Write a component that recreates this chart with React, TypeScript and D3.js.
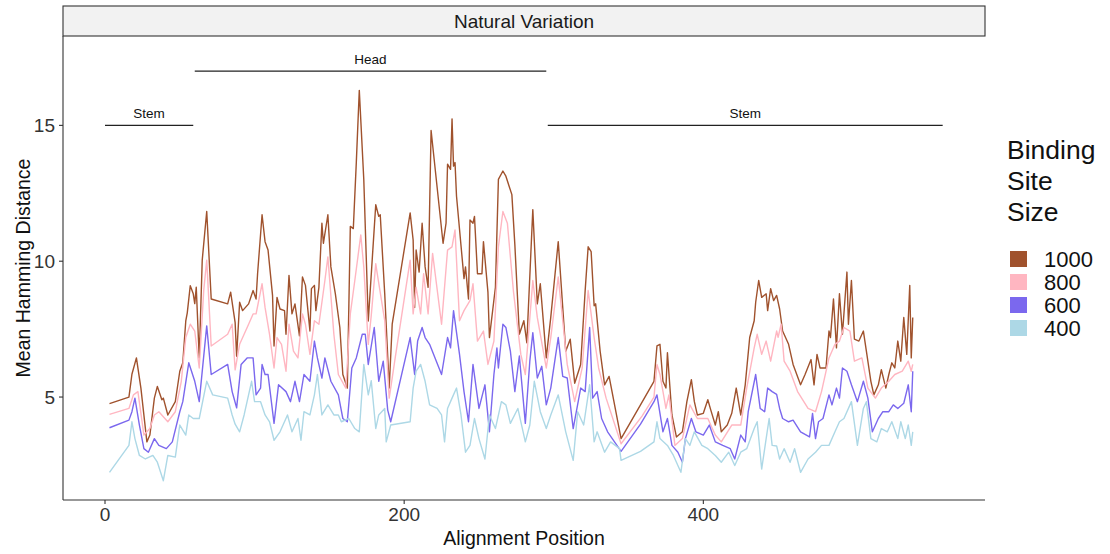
import React from "react";
import * as d3 from "d3";

// ---- data (Alignment Position, Mean Hamming Distance) ----
const s1000: [number, number][] = [[3,4.76],[16,5.0],[18,5.84],[21,6.44],[24,5.33],[28,3.35],[30,3.6],[33,4.96],[35,5.39],[38,4.9],[39,4.96],[42,4.34],[47,4.83],[50,5.95],[52,6.26],[54,7.8],[55,8.1],[57,9.1],[59,8.8],[60,8.44],[61,9.04],[63,6.44],[65,10.04],[68,11.83],[71,8.61],[82,8.43],[84,8.86],[87,7.74],[88,6.5],[90,8.49],[92,8.18],[96,8.43],[99,8.92],[101,8.61],[102,9.54],[105,11.71],[107,10.72],[109,10.41],[112,8.74],[113,6.88],[115,8.67],[117,8.24],[120,8.18],[121,7.31],[123,9.48],[125,8.06],[127,8.43],[130,7.25],[132,9.42],[134,9.11],[137,7.43],[138,8.99],[140,9.11],[141,8.18],[143,9.04],[145,11.4],[146,10.66],[149,11.71],[151,9.79],[154,8.8],[157,7.56],[159,5.83],[162,5.33],[164,11.28],[166,11.2],[168,13.63],[170,16.29],[173,13.01],[176,7.8],[181,12.08],[183,11.65],[184,11.71],[187,8.8],[190,5.33],[192,7.68],[204,11.78],[206,10.78],[207,8.3],[208,10.41],[210,9.6],[212,11.4],[214,9.79],[216,9.04],[218,14.81],[226,10.66],[228,11.4],[229,13.57],[231,13.38],[232,15.24],[233,13.5],[234,13.63],[235,12.39],[240,9.36],[241,9.79],[243,8.61],[244,11.52],[246,11.4],[247,11.65],[249,9.54],[252,9.54],[253,10.72],[256,8.86],[257,7.19],[261,9.04],[263,13.01],[266,13.32],[268,13.13],[272,12.45],[274,10.6],[277,7.31],[280,7.81],[282,7.0],[286,11.9],[289,8.43],[291,9.17],[295,6.44],[298,7.93],[303,10.72],[308,6.69],[311,7.13],[314,5.51],[318,6.2],[321,8.92],[323,10.53],[325,10.35],[327,8.36],[328,8.43],[331,6.69],[334,5.45],[337,5.76],[345,3.47],[358,4.71],[367,5.58],[369,6.88],[371,6.94],[373,5.58],[375,5.33],[376,6.63],[379,4.34],[382,3.53],[386,3.72],[389,4.83],[392,5.64],[394,4.83],[396,4.34],[400,4.4],[403,4.9],[405,4.52],[408,3.97],[410,4.46],[412,3.72],[416,3.97],[419,4.4],[422,5.33],[425,4.34],[428,5.45],[431,7.19],[434,7.81],[435,8.49],[437,9.29],[439,8.67],[442,8.8],[443,8.18],[445,8.99],[447,8.55],[449,8.74],[451,8.24],[453,7.43],[457,6.94],[460,6.2],[465,5.45],[468,5.83],[472,6.38],[474,5.45],[476,6.57],[478,6.07],[482,6.07],[484,7.43],[485,7.19],[487,8.61],[489,6.81],[491,8.8],[493,7.31],[496,9.6],[497,7.68],[499,9.29],[501,7.13],[504,7.06],[507,7.43],[509,6.69],[512,5.58],[514,5.08],[517,5.45],[519,6.01],[522,5.33],[524,5.83],[526,6.26],[528,6.07],[530,7.06],[532,6.32],[534,7.93],[536,6.57],[538,9.11],[539,6.44],[540,7.93]];

const s800: [number, number][] = [[3,4.36],[16,4.58],[19,5.08],[22,5.2],[26,3.6],[30,3.84],[33,4.34],[36,4.46],[42,4.09],[47,4.46],[51,5.58],[54,7.19],[57,7.68],[60,7.43],[63,6.07],[66,8.92],[68,10.04],[71,6.88],[82,7.31],[85,7.68],[87,6.0],[90,6.94],[96,7.68],[99,8.06],[101,8.06],[105,9.17],[107,8.3],[110,7.31],[113,6.07],[115,7.19],[118,6.94],[121,5.95],[123,7.68],[126,6.69],[129,6.44],[132,8.06],[134,7.68],[137,6.57],[140,7.81],[143,7.68],[147,9.29],[149,10.16],[153,7.31],[156,5.83],[161,5.33],[164,8.06],[167,9.29],[171,10.97],[173,9.79],[176,6.94],[178,8.0],[181,9.91],[182,9.54],[187,7.81],[190,4.96],[194,6.44],[204,10.04],[206,8.06],[208,9.04],[211,8.06],[213,9.54],[216,8.06],[219,10.29],[225,7.68],[229,10.41],[232,10.53],[234,11.15],[237,7.81],[240,8.18],[244,8.55],[246,9.17],[249,7.06],[253,7.43],[256,6.2],[260,7.06],[263,10.53],[266,11.83],[269,11.4],[273,8.92],[278,6.57],[281,5.83],[286,9.29],[289,7.93],[295,6.07],[298,7.19],[303,9.42],[309,6.2],[314,4.83],[319,6.07],[323,8.92],[327,7.19],[330,6.07],[335,4.96],[345,3.28],[359,4.3],[367,5.0],[369,6.2],[371,5.83],[375,4.58],[377,5.08],[381,3.22],[386,3.47],[391,4.71],[396,4.21],[403,4.21],[408,3.6],[412,3.35],[419,3.97],[425,3.97],[429,5.33],[434,6.81],[436,7.31],[439,6.57],[442,7.06],[445,6.32],[449,7.43],[450,7.2],[452,7.68],[454,6.32],[458,5.95],[463,5.2],[470,4.58],[475,4.46],[479,5.2],[484,6.44],[488,6.94],[491,7.06],[494,7.56],[498,7.43],[501,6.32],[506,6.44],[510,5.33],[515,4.96],[519,5.33],[524,5.58],[528,5.83],[533,5.95],[537,6.32],[539,5.95],[540,6.2]];

const s600: [number, number][] = [[3,3.87],[16,4.15],[18,4.46],[20,4.96],[23,3.97],[26,3.1],[29,2.97],[33,3.47],[36,3.22],[41,3.1],[45,3.35],[50,4.46],[52,4.83],[56,6.26],[60,5.58],[63,4.83],[68,7.62],[71,5.83],[82,6.2],[85,5.2],[86,5.0],[88,4.6],[91,6.2],[95,6.44],[99,6.44],[101,5.08],[104,5.33],[105,6.2],[107,5.83],[109,5.83],[113,4.03],[116,5.45],[121,5.2],[124,4.83],[127,5.58],[130,4.83],[133,5.83],[137,5.58],[140,7.06],[142,6.44],[145,5.7],[147,6.44],[151,5.58],[156,5.08],[159,4.21],[162,4.09],[165,6.07],[168,6.44],[172,7.31],[174,7.31],[176,6.2],[180,7.56],[183,5.58],[186,6.32],[189,4.52],[191,4.09],[204,7.19],[207,5.83],[209,7.06],[212,7.56],[214,7.19],[217,6.94],[225,5.83],[229,7.19],[231,6.81],[233,8.18],[237,6.57],[240,5.2],[243,4.09],[246,6.2],[250,4.58],[254,5.45],[257,3.72],[260,5.83],[262,6.81],[263,6.07],[266,7.68],[268,7.56],[271,6.69],[274,5.2],[277,6.51],[281,4.03],[284,6.32],[286,7.37],[289,5.7],[292,6.13],[295,4.71],[298,5.33],[303,7.19],[306,5.76],[309,5.7],[313,3.84],[318,5.33],[321,5.2],[324,7.56],[326,4.96],[329,5.2],[332,4.21],[336,3.72],[345,3.0],[358,4.0],[367,4.83],[369,5.08],[373,3.72],[376,4.21],[379,3.22],[383,2.97],[386,2.6],[388,3.47],[392,4.21],[395,3.72],[400,3.6],[404,3.97],[408,3.35],[413,3.22],[418,3.1],[421,2.72],[425,3.6],[428,3.35],[430,4.46],[435,5.83],[438,4.58],[441,4.46],[443,5.33],[446,5.2],[449,5.1],[451,4.58],[453,4.21],[457,4.09],[460,4.15],[465,3.72],[471,3.53],[473,4.4],[475,3.47],[477,4.09],[480,4.21],[484,5.08],[486,4.71],[489,5.33],[491,4.96],[493,6.07],[496,5.95],[499,5.45],[503,4.83],[507,5.58],[510,4.96],[513,3.72],[517,4.21],[520,4.46],[524,4.46],[527,4.71],[530,4.58],[534,4.77],[537,5.45],[539,4.46],[540,5.95]];

const s400: [number, number][] = [[3,2.23],[16,3.22],[18,4.09],[20,3.47],[23,2.85],[27,2.72],[32,2.85],[35,2.6],[39,1.92],[42,2.85],[47,2.79],[50,3.97],[54,3.6],[56,4.34],[59,4.21],[63,4.21],[68,5.58],[72,5.08],[82,4.96],[85,4.34],[87,4.0],[90,3.72],[93,4.34],[98,5.58],[100,4.83],[104,4.83],[107,4.34],[110,4.09],[113,3.41],[117,3.72],[122,4.34],[125,3.72],[129,4.21],[131,3.41],[133,4.46],[137,4.34],[140,5.08],[142,5.83],[145,4.34],[149,4.71],[153,4.34],[156,4.34],[158,4.09],[163,4.21],[167,3.84],[170,3.72],[173,6.2],[176,5.08],[178,5.6],[181,3.84],[183,4.34],[187,4.58],[188,3.35],[191,3.97],[204,4.09],[206,5.33],[208,5.95],[211,6.2],[214,5.58],[217,4.71],[222,4.58],[225,4.34],[227,3.35],[229,4.58],[232,4.96],[235,5.33],[238,4.34],[241,2.97],[244,3.22],[247,4.21],[250,3.47],[254,2.72],[257,4.34],[261,3.84],[265,4.83],[268,4.71],[271,4.03],[276,4.58],[281,3.35],[284,3.97],[287,5.58],[291,4.46],[295,3.84],[298,4.34],[303,5.08],[308,3.72],[313,2.67],[316,4.46],[320,3.97],[324,5.45],[327,3.35],[329,3.72],[334,2.97],[338,3.35],[344,3.1],[345,2.67],[358,3.0],[367,3.35],[369,4.09],[371,3.47],[376,3.22],[380,2.85],[385,2.23],[388,3.47],[391,3.22],[394,3.72],[399,3.22],[403,3.1],[408,2.85],[412,2.6],[417,2.97],[421,2.48],[425,2.97],[429,3.1],[434,3.84],[436,4.09],[439,2.35],[442,3.47],[444,4.21],[446,3.22],[449,3.2],[451,2.72],[454,3.1],[458,2.6],[461,3.1],[465,2.23],[470,2.72],[475,2.97],[479,3.22],[484,3.22],[488,3.72],[491,4.09],[494,4.21],[499,4.83],[503,3.22],[507,4.58],[509,4.83],[512,3.47],[516,3.35],[519,3.84],[523,3.72],[526,4.09],[530,3.47],[532,4.09],[535,3.47],[537,3.97],[539,3.22],[540,3.72]];

const seriesNames = ["1000", "800", "600", "400"];
const seriesColors = ["#A0522D", "#FFB6C1", "#7B68EE", "#ADD8E6"];
const seriesData = [s1000, s800, s600, s400];

const xTicks = [0, 200, 400];
const yTicks = [5, 10, 15];

// region annotations
const regionNames = ["Stem", "Head", "Stem"];
const regionStart = [0, 60, 296];
const regionEnd = [59, 295, 560];
const regionLevel = [15, 17, 15];

const FONT = "'Liberation Sans', Arial, Helvetica, sans-serif";

export default function App() {
  const W = 1110, H = 554;
  const left = 63, right = 985, top = 36, bottom = 500;
  const x = d3.scaleLinear().domain([-28.08, 588.3]).range([left, right]);
  const y = d3.scaleLinear().domain([1.21, 18.29]).range([bottom, top]);
  const line = d3.line<[number, number]>().x(d => x(d[0])).y(d => y(d[1]));

  return (
    <svg width={W} height={H} style={{ position: "absolute", left: 0, top: 0, background: "#fff" }} fontFamily={FONT}>
      <rect x={0} y={0} width={W} height={H} fill="#fff" />
      {/* strip */}
      <rect x={left} y={6} width={right - left} height={30} fill="#F2F2F2" stroke="#333" strokeWidth={1.1} />
      <text x={(left + right) / 2} y={28} textAnchor="middle" fontSize={19} fill="#1a1a1a">Natural Variation</text>

      {/* lines */}
      {seriesData.map((s, i) => (
        <path key={i} d={line(s) || ""} fill="none" stroke={seriesColors[i]} strokeWidth={1.4} strokeLinejoin="round" />
      ))}

      {/* region annotations */}
      {regionNames.map((n, i) => (
        <g key={i}>
          <line x1={x(regionStart[i])} x2={x(regionEnd[i])} y1={y(regionLevel[i])} y2={y(regionLevel[i])} stroke="#222" strokeWidth={1.2} />
          <text x={x((regionStart[i] + regionEnd[i]) / 2)} y={y(regionLevel[i]) - 7} textAnchor="middle" fontSize={13.5} fill="#111">{n}</text>
        </g>
      ))}

      {/* axes */}
      <line x1={left} x2={left} y1={top} y2={bottom} stroke="#333" strokeWidth={1.1} />
      <line x1={left} x2={right} y1={bottom} y2={bottom} stroke="#333" strokeWidth={1.1} />
      {yTicks.map(t => (
        <g key={t}>
          <line x1={left - 4} x2={left} y1={y(t)} y2={y(t)} stroke="#333" strokeWidth={1.1} />
          <text x={left - 8} y={y(t)} dy="0.36em" textAnchor="end" fontSize={19} fill="#333">{t}</text>
        </g>
      ))}
      {xTicks.map(t => (
        <g key={t}>
          <line x1={x(t)} x2={x(t)} y1={bottom} y2={bottom + 4} stroke="#333" strokeWidth={1.1} />
          <text x={x(t)} y={521} textAnchor="middle" fontSize={19} fill="#333">{t}</text>
        </g>
      ))}
      <text x={(left + right) / 2} y={545} textAnchor="middle" fontSize={19.5} fill="#111">Alignment Position</text>
      <text transform={`translate(30, ${(top + bottom) / 2}) rotate(-90)`} textAnchor="middle" fontSize={19.5} fill="#111">Mean Hamming Distance</text>

      {/* legend */}
      <text x={1007} y={159} fontSize={26.5} fill="#111">Binding</text>
      <text x={1007} y={190} fontSize={26.5} fill="#111">Site</text>
      <text x={1007} y={221} fontSize={26.5} fill="#111">Size</text>
      {seriesNames.map((n, i) => (
        <g key={n}>
          <rect x={1010} y={251 + i * 23} width={17} height={16} fill={seriesColors[i]} />
          <text x={1044} y={259 + i * 23} dy="0.35em" fontSize={22} fill="#111">{n}</text>
        </g>
      ))}
    </svg>
  );
}
